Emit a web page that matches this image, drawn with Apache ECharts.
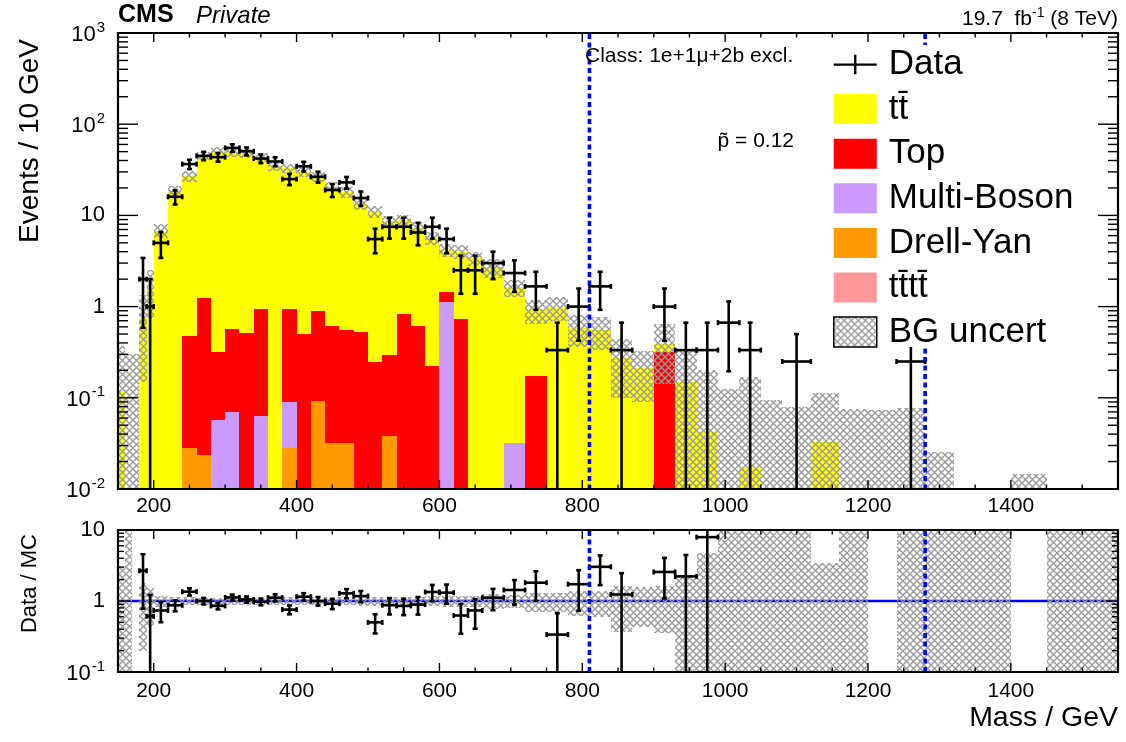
<!DOCTYPE html>
<html>
<head>
<meta charset="utf-8">
<script src="https://cdn.jsdelivr.net/npm/echarts@6/dist/echarts.min.js"></script>
<style>
html, body { margin: 0; padding: 0; background: #fff; }
#chart { width: 1126px; height: 742px; }
</style>
</head>
<body>
<div id="chart"></div>
<script>
// ---- Histogram binning (GeV) ----
const binEdges = [150,160,170,180,190,200,220,240,260,280,300,320,340,360,380,400,420,440,460,480,500,
  520,540,560,580,600,620,640,660,690,720,750,780,810,840,870,900,930,960,990,1020,1050,1080,
  1120,1160,1200,1240,1280,1320,1360,1400,1450,1500,1550];

// Observed events per bin
const dataEvents = [0,0,0,2,1,10,32,73,90,87,110,101,84,78,50,69,53,38,46,31,11,
  15,15,13,15,11,5,5,9,7,5,1,3,5,1,0,3,1,1,2,1,0,
  1,0,0,0,1,0,0,0,0,0,0];

// Expected backgrounds, events / 10 GeV
const ttbar = [0.12,0.002,0,0.75,1.64,6.8,18.4,26.5,43.8,50.7,48.4,47.5,42.1,35,32.1,29.5,25.6,20.1,17.4,12.7,10.75,
  8.3,7.96,6.69,5.38,2.75,3.27,3.4,2.7,1.6,0.745,0.99,0.58,0.55,0.27,0.21,0.075,0.15,0.042,0.004,0.017,0.003,
  0.002,0.033,0.002,0,0.003,0.002,0.0008,0.0008,0,0.0008,0.0008];
const singleTop = [0,0,0,0,0,0,0,0.45,1.21,0.26,0.5,0.51,0.88,0,0.85,0.5,0.81,0.58,0.52,0.53,0.247,
  0.26,0.836,0.61,0.225,0.34,0.73,0,0,0,0.175,0,0,0,0,0,0.315,0,0,0,0,0,
  0,0,0,0,0,0,0,0,0,0,0];
const multiBoson = [0,0,0,0,0,0,0,0,0,0.0565,0.068,0,0.0625,0,0.062,0,0,0,0,0,0,
  0,0,0,0,1.11,0,0,0,0.032,0,0,0,0,0,0,0,0,0,0,0,0,
  0,0,0,0,0,0,0,0,0,0,0];
const drellYan = [0,0,0,0,0,0,0,0.028,0.023,0,0,0,0,0,0.027,0,0.091,0.031,0.031,0,0,
  0.0377,0,0,0,0,0,0,0,0,0,0,0,0,0,0,0,0,0,0,0,0,
  0,0,0,0,0,0,0,0,0,0,0];
const fourTop = [0,0,0,0,0,0,0,0.0004,0.0006,0.0008,0.001,0.001,0.0012,0.001,0.001,0.001,0.0008,0.0008,0.0007,0.0006,0.0005,
  0.0005,0.0004,0.0004,0.0003,0.0003,0.0003,0.0002,0.0002,0.0002,0.0001,0.0001,0.0001,0.0001,0,0,0,0,0,0,0,0,
  0,0,0,0,0,0,0,0,0,0,0];
// Total background uncertainty, events / 10 GeV
const bgUncert = [0.25,0.3,0.3,0.6,0.9,1.2,2.5,3.5,5,5.5,5.5,5.5,5,4,4,3.5,3.2,2.6,2.3,1.8,1.6,
  1.3,1.3,1.1,0.9,0.7,0.7,0.6,0.65,0.35,0.27,0.3,0.22,0.22,0.17,0.12,0.25,0.19,0.16,0.12,0.15,0.092,
  0.078,0.08,0.073,0.074,0.074,0.0235,0.008,0.008,0.0146,0.008,0.008];

// Region of interest boundaries (GeV)
const roiEdges = [810, 1280];

// Axis ticks
const xMajorTicks = [200, 400, 600, 800, 1000, 1200, 1400];
const xMinorStep = 50;
const mainDecades = [-2, -1, 0, 1, 2, 3];
const ratioDecades = [-1, 0, 1];

const FONT = '"Liberation Sans", Arial, Helvetica, sans-serif';
const X_MIN = 150, X_MAX = 1550;
const Y_MIN = 0.01, Y_MAX = 1000;
const R_MIN = 0.1, R_MAX = 10;

// ---- derived quantities ----
const nBins = binEdges.length - 1;
const widths = [];
for (let i = 0; i < nBins; i++) widths.push(binEdges[i + 1] - binEdges[i]);
const dataVal = dataEvents.map((n, i) => n * 10 / widths[i]);
const dataErr = dataEvents.map((n, i) => Math.sqrt(n) * 10 / widths[i]);

const TT = 't\u0074\u0304';
const TTTT = 't\u0074\u0304t\u0074\u0304';

// stacking order, bottom to top
const stackDefs = [
  { name: TTTT, values: fourTop, color: '#ff9999' },
  { name: 'Drell-Yan', values: drellYan, color: '#ff9900' },
  { name: 'Multi-Boson', values: multiBoson, color: '#cc99ff' },
  { name: 'Top', values: singleTop, color: '#ff0000' },
  { name: TT, values: ttbar, color: '#ffff00' }
];
const cumulative = new Array(nBins).fill(0);
const stackItems = stackDefs.map(def => {
  const items = [];
  for (let i = 0; i < nBins; i++) {
    const lo = cumulative[i];
    const hi = lo + def.values[i];
    cumulative[i] = hi;
    if (def.values[i] > 0) items.push([binEdges[i], binEdges[i + 1], lo, hi]);
  }
  return items;
});
const mcTotal = cumulative.slice();

// hatch pattern for the background uncertainty
const hatch = (function () {
  const p = 7;
  const c = document.createElement('canvas');
  c.width = p; c.height = p;
  const g = c.getContext('2d');
  g.strokeStyle = '#999999';
  g.lineWidth = 1.35;
  g.beginPath();
  g.moveTo(-1, -1); g.lineTo(p + 1, p + 1);
  g.moveTo(p + 1, -1); g.lineTo(-1, p + 1);
  g.stroke();
  return { image: c, repeat: 'repeat' };
})();

// ---- renderers ----
function boxRenderer(yLo, yHi, fill) {
  return function (params, api) {
    const x0 = api.value(0), x1 = api.value(1);
    let lo = api.value(2), hi = api.value(3);
    if (!(hi > yLo) || !(lo < yHi) || hi <= lo) return null;
    lo = Math.max(lo, yLo); hi = Math.min(hi, yHi);
    const a = api.coord([x0, lo]), b = api.coord([x1, hi]);
    const xa = Math.round(a[0]), xb = Math.round(b[0]);
    const ya = Math.round(a[1]), yb = Math.round(b[1]);
    if (ya - yb < 1) return null;
    return { type: 'rect', shape: { x: xa, y: yb, width: xb - xa, height: ya - yb }, style: { fill: fill } };
  };
}

function crossRenderer(yLo, yHi) {
  return function (params, api) {
    const x0 = api.value(0), x1 = api.value(1), v = api.value(2), e = api.value(3);
    if (!(v >= yLo && v <= yHi)) return null;
    const xc = (x0 + x1) / 2;
    const pc = api.coord([xc, v]);
    const pl = api.coord([x0, v]), pr = api.coord([x1, v]);
    const lowClipped = (v - e) <= yLo;
    const highClipped = (v + e) >= yHi;
    const pLo = api.coord([xc, lowClipped ? yLo : v - e]);
    const pHi = api.coord([xc, highClipped ? yHi : v + e]);
    const st = { stroke: '#000', lineWidth: 2.6 };
    const cap = 2.5;
    const kids = [
      { type: 'line', shape: { x1: pl[0], y1: pc[1], x2: pr[0], y2: pc[1] }, style: st },
      { type: 'line', shape: { x1: pc[0], y1: pLo[1], x2: pc[0], y2: pHi[1] }, style: st },
      { type: 'line', shape: { x1: pl[0], y1: pc[1] - cap, x2: pl[0], y2: pc[1] + cap }, style: st },
      { type: 'line', shape: { x1: pr[0], y1: pc[1] - cap, x2: pr[0], y2: pc[1] + cap }, style: st }
    ];
    if (!lowClipped) kids.push({ type: 'line', shape: { x1: pc[0] - cap, y1: pLo[1], x2: pc[0] + cap, y2: pLo[1] }, style: st });
    if (!highClipped) kids.push({ type: 'line', shape: { x1: pc[0] - cap, y1: pHi[1], x2: pc[0] + cap, y2: pHi[1] }, style: st });
    return { type: 'group', children: kids };
  };
}

function roiRenderer(yRef) {
  return function (params, api) {
    const cs = params.coordSys;
    const x = api.coord([api.value(0), yRef])[0];
    return {
      type: 'line',
      shape: { x1: x, y1: cs.y + 1, x2: x, y2: cs.y + cs.height - 1 },
      style: { stroke: '#0000ff', lineWidth: 3.6, lineDash: [5, 3.5] }
    };
  };
}

function unityRenderer(params, api) {
  const cs = params.coordSys;
  const y = api.coord([X_MIN, api.value(1)])[1];
  return {
    type: 'line',
    shape: { x1: cs.x, y1: y, x2: cs.x + cs.width, y2: y },
    style: { stroke: '#0000ff', lineWidth: 2.4 }
  };
}

function makeXTicks(major, minor) {
  const t = [];
  for (let v = X_MIN; v <= X_MAX; v += xMinorStep) {
    t.push([v, xMajorTicks.indexOf(v) >= 0 ? major : minor]);
  }
  return t;
}
function makeYTicks(decades, major, minor) {
  const t = [];
  decades.forEach((d, k) => {
    const base = Math.pow(10, d);
    t.push([base, major]);
    if (k < decades.length - 1) {
      for (let f = 2; f <= 9; f++) t.push([f * base, minor]);
    }
  });
  return t;
}

function frameRenderer(xTicks, yTicks, yRef) {
  return function (params, api) {
    const cs = params.coordSys;
    const L = cs.x, T = cs.y, R = cs.x + cs.width, B = cs.y + cs.height;
    const st = { stroke: '#000', lineWidth: 1.4 };
    const kids = [];
    xTicks.forEach(([v, len]) => {
      const px = api.coord([v, yRef])[0];
      kids.push({ type: 'line', shape: { x1: px, y1: B, x2: px, y2: B - len }, style: st });
      kids.push({ type: 'line', shape: { x1: px, y1: T, x2: px, y2: T + len }, style: st });
    });
    yTicks.forEach(([v, len]) => {
      const py = api.coord([X_MIN, v])[1];
      kids.push({ type: 'line', shape: { x1: L, y1: py, x2: L + len, y2: py }, style: st });
      kids.push({ type: 'line', shape: { x1: R, y1: py, x2: R - len, y2: py }, style: st });
    });
    kids.push({ type: 'rect', shape: { x: L, y: T, width: cs.width, height: cs.height },
      style: { fill: null, stroke: '#000', lineWidth: 2.2 } });
    return { type: 'group', children: kids };
  };
}

// ---- series data ----
const uncItems = [];
const ratioBandItems = [];
for (let i = 0; i < nBins; i++) {
  const s = bgUncert[i];
  if (s > 0) uncItems.push([binEdges[i], binEdges[i + 1], mcTotal[i] - s, mcTotal[i] + s]);
  if (mcTotal[i] > 0 && s > 0) {
    ratioBandItems.push([binEdges[i], binEdges[i + 1], 1 - s / mcTotal[i], 1 + s / mcTotal[i]]);
  }
}
const dataItems = [];
const ratioItems = [];
for (let i = 0; i < nBins; i++) {
  if (dataEvents[i] <= 0) continue;
  dataItems.push([binEdges[i], binEdges[i + 1], dataVal[i], dataErr[i]]);
  if (mcTotal[i] > 0) {
    const r = dataVal[i] / mcTotal[i];
    if (r >= R_MIN && r <= R_MAX) ratioItems.push([binEdges[i], binEdges[i + 1], r, dataErr[i] / mcTotal[i]]);
  }
}

// ---- axis label formatting ----
function logLabel(v) {
  const e = Math.round(Math.log10(v));
  if (e === 0) return '1';
  if (e === 1) return '10';
  return '{b|10}{s|' + e + '}';
}
const labelRich = {
  b: { fontSize: 22, fontFamily: FONT, color: '#000', lineHeight: 26, verticalAlign: 'bottom' },
  s: { fontSize: 15, fontFamily: FONT, color: '#000', lineHeight: 26, verticalAlign: 'top', padding: [0, 0, 0, 1] }
};
function xLabel(v) { return xMajorTicks.indexOf(v) >= 0 ? String(v) : ''; }

const gridMain = { left: 118, top: 33, width: 1000, height: 456 };
const gridRatio = { left: 118, top: 530, width: 1000, height: 142 };

const series = [];
stackDefs.forEach((def, k) => {
  series.push({
    type: 'custom', name: def.name, xAxisIndex: 0, yAxisIndex: 0, z: 2,
    renderItem: boxRenderer(Y_MIN, Y_MAX, def.color),
    encode: { x: [0, 1], y: 3 },
    itemStyle: { color: def.color },
    data: stackItems[k], silent: true
  });
});
series.push({
  type: 'custom', name: 'BG uncert', xAxisIndex: 0, yAxisIndex: 0, z: 3,
  renderItem: boxRenderer(Y_MIN, Y_MAX, hatch),
  encode: { x: [0, 1], y: 3 }, data: uncItems, silent: true
});
series.push({
  type: 'custom', name: 'Data', xAxisIndex: 0, yAxisIndex: 0, z: 4,
  renderItem: crossRenderer(Y_MIN, Y_MAX),
  encode: { x: [0, 1], y: 2 }, itemStyle: { color: '#000' }, data: dataItems, silent: true
});
series.push({
  type: 'custom', name: 'roi-main', xAxisIndex: 0, yAxisIndex: 0, z: 5,
  renderItem: roiRenderer(Y_MIN), encode: { x: 0 },
  data: roiEdges.map(v => [v]), silent: true
});
series.push({
  type: 'custom', name: 'frame-main', xAxisIndex: 0, yAxisIndex: 0, z: 9,
  renderItem: frameRenderer(makeXTicks(9, 4.5), makeYTicks(mainDecades, 20, 10), Y_MIN),
  encode: { x: 0, y: 1 }, data: [[X_MIN, Y_MIN]], silent: true
});
// ratio panel
series.push({
  type: 'custom', name: 'unity', xAxisIndex: 1, yAxisIndex: 1, z: 1,
  renderItem: unityRenderer, encode: { x: 0, y: 1 }, data: [[X_MIN, 1]], silent: true
});
series.push({
  type: 'custom', name: 'ratio-band', xAxisIndex: 1, yAxisIndex: 1, z: 3,
  renderItem: boxRenderer(R_MIN, R_MAX, hatch),
  encode: { x: [0, 1], y: 3 }, data: ratioBandItems, silent: true
});
series.push({
  type: 'custom', name: 'ratio-data', xAxisIndex: 1, yAxisIndex: 1, z: 4,
  renderItem: crossRenderer(R_MIN, R_MAX),
  encode: { x: [0, 1], y: 2 }, data: ratioItems, silent: true
});
series.push({
  type: 'custom', name: 'roi-ratio', xAxisIndex: 1, yAxisIndex: 1, z: 5,
  renderItem: roiRenderer(R_MIN), encode: { x: 0 },
  data: roiEdges.map(v => [v]), silent: true
});
series.push({
  type: 'custom', name: 'frame-ratio', xAxisIndex: 1, yAxisIndex: 1, z: 9,
  renderItem: frameRenderer(makeXTicks(9, 4.5), makeYTicks(ratioDecades, 12, 6), R_MIN),
  encode: { x: 0, y: 1 }, data: [[X_MIN, R_MIN]], silent: true
});

const xAxisBase = {
  type: 'value', min: X_MIN, max: X_MAX, interval: xMinorStep,
  axisLine: { show: false }, axisTick: { show: false }, splitLine: { show: false },
  axisLabel: { formatter: xLabel, fontSize: 21, fontFamily: FONT, color: '#000', margin: 7 }
};
const yAxisBase = {
  type: 'log', logBase: 10,
  axisLine: { show: false }, axisTick: { show: false }, splitLine: { show: false }, minorTick: { show: false },
  axisLabel: { formatter: logLabel, rich: labelRich, fontSize: 22, fontFamily: FONT, color: '#000', margin: 13 }
};

const legendData = [
  { name: 'Data', icon: 'path://M0,9h44v2.4h-44z M20.8,0h2.4v20h-2.4z', itemStyle: { color: '#000', borderWidth: 0 } },
  { name: TT, icon: 'rect', itemStyle: { color: '#ffff00', borderWidth: 0 } },
  { name: 'Top', icon: 'rect', itemStyle: { color: '#ff0000', borderWidth: 0 } },
  { name: 'Multi-Boson', icon: 'rect', itemStyle: { color: '#cc99ff', borderWidth: 0 } },
  { name: 'Drell-Yan', icon: 'rect', itemStyle: { color: '#ff9900', borderWidth: 0 } },
  { name: TTTT, icon: 'rect', itemStyle: { color: '#ff9999', borderWidth: 0 } },
  { name: 'BG uncert', icon: 'rect', itemStyle: { color: hatch, borderColor: '#000', borderWidth: 1.5 } }
];

const chart = echarts.init(document.getElementById('chart'), null, { renderer: 'canvas' });
chart.setOption({
  animation: false,
  backgroundColor: '#ffffff',
  grid: [gridMain, gridRatio],
  xAxis: [Object.assign({ gridIndex: 0 }, xAxisBase),
          Object.assign({ gridIndex: 1 }, xAxisBase, { axisLabel: Object.assign({}, xAxisBase.axisLabel, { margin: 9 }) })],
  yAxis: [Object.assign({ gridIndex: 0, min: Y_MIN, max: Y_MAX, splitNumber: 5 }, yAxisBase),
          Object.assign({ gridIndex: 1, min: R_MIN, max: R_MAX, splitNumber: 2 }, yAxisBase)],
  legend: {
    orient: 'vertical', left: 833, top: 47, padding: 0, z: 7,
    itemWidth: 43, itemHeight: 30, itemGap: 9.6,
    selectedMode: false, symbolKeepAspect: true,
    textStyle: { fontSize: 35, fontFamily: FONT, color: '#000', lineHeight: 32, padding: [0, 0, 0, 7] },
    data: legendData
  },
  graphic: [
    // white legend panel
    { type: 'rect', z: 6, shape: { x: 818, y: 45, width: 278, height: 302 }, style: { fill: '#ffffff' } },
    { type: 'text', x: 118, y: 15, style: { text: 'CMS', font: 'bold 25px ' + FONT, fill: '#000', verticalAlign: 'middle' } },
    { type: 'text', x: 196, y: 16, style: { text: 'Private', font: 'italic 24px ' + FONT, fill: '#000', verticalAlign: 'middle' } },
    { type: 'text', x: 1118, y: 18, style: {
        text: '{a|19.7  fb}{s|-1}{a| (8 TeV)}', align: 'right', verticalAlign: 'middle',
        rich: { a: { fontSize: 21, fontFamily: FONT, fill: '#000', lineHeight: 24, verticalAlign: 'bottom' },
                s: { fontSize: 14, fontFamily: FONT, fill: '#000', lineHeight: 24, verticalAlign: 'top' } } } },
    { type: 'text', z: 10, x: 585, y: 56, style: { text: 'Class: 1e+1\u03bc+2b excl.', font: '21px ' + FONT, fill: '#000', verticalAlign: 'middle' } },
    { type: 'text', z: 10, x: 794, y: 141, style: { text: 'p\u0303 = 0.12', font: '21px ' + FONT, fill: '#000', align: 'right', verticalAlign: 'middle' } },
    { type: 'text', x: 30, y: 39, rotation: Math.PI / 2, style: { text: 'Events / 10 GeV', font: '28px ' + FONT, fill: '#000', align: 'right', verticalAlign: 'middle' } },
    { type: 'text', x: 30, y: 534, rotation: Math.PI / 2, style: { text: 'Data / MC', font: '22px ' + FONT, fill: '#000', align: 'right', verticalAlign: 'middle' } },
    { type: 'text', x: 1118, y: 718, style: { text: 'Mass / GeV', font: '28.5px ' + FONT, fill: '#000', align: 'right', verticalAlign: 'middle' } }
  ],
  series: series
});
</script>
</body>
</html>
